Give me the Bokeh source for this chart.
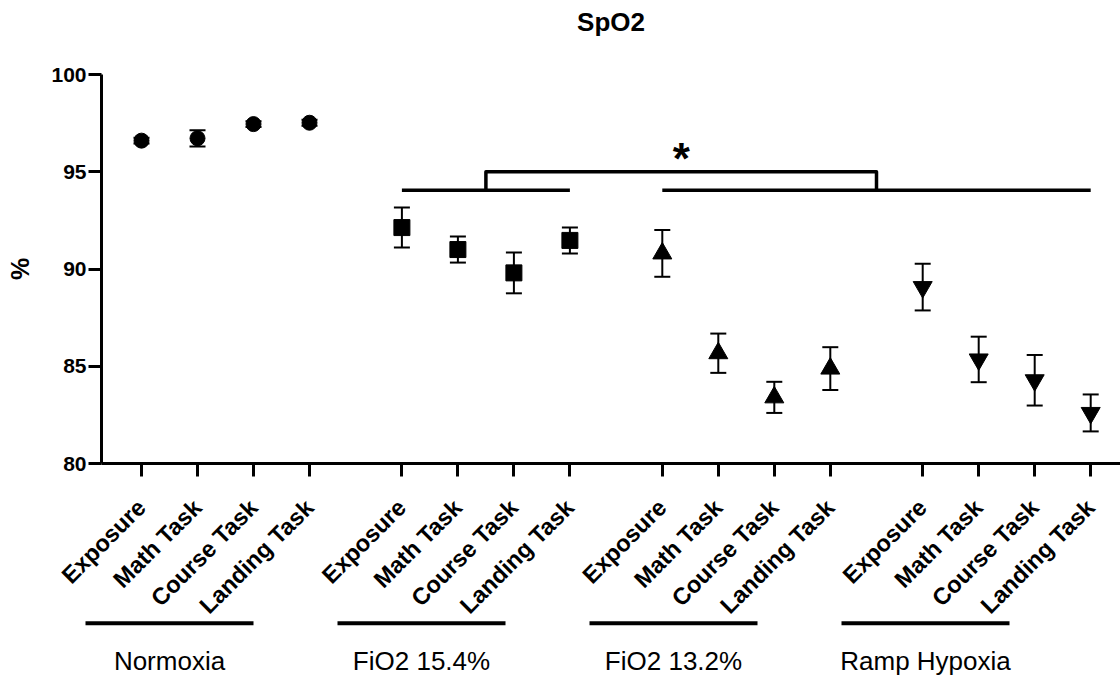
import math
from bokeh.plotting import figure
from bokeh.models import FixedTicker, ColumnDataSource, Range1d
from bokeh.core.properties import value
from bokeh.embed import file_html
from bokeh.resources import INLINE

# --- data -----------------------------------------------------------------
tasks = ["Exposure", "Math Task", "Course Task", "Landing Task"]
conditions = ["Normoxia", "FiO2 15.4%", "FiO2 13.2%", "Ramp Hypoxia"]

normoxia_mean = [96.60, 96.72, 97.45, 97.52]
normoxia_sem = [0.15, 0.42, 0.15, 0.15]
fio2_154_mean = [92.13, 91.00, 89.80, 91.47]
fio2_154_sem = [1.03, 0.67, 1.05, 0.67]
fio2_132_mean = [90.80, 85.67, 83.40, 84.88]
fio2_132_sem = [1.20, 1.01, 0.80, 1.10]
ramp_mean = [89.07, 85.35, 84.28, 82.60]
ramp_sem = [1.20, 1.17, 1.30, 0.95]

y_ticks = [80, 85, 90, 95, 100]
title_text = "SpO2"
sig_text = "*"
sig_bar_y = 94.05      # level of the two comparison bars
sig_bracket_y = 95.0   # level of the connecting bracket
sig_star_y = 95.7

# --- layout ---------------------------------------------------------------
FONT = "Liberation Sans"
W, H = 1120, 677
group_offset = [0, 93, 186, 279]   # x position of the first task in each condition
task_step = 20
group_label_x = [10, 100, 190, 280]
group_label_half = 30

means = [normoxia_mean, fio2_154_mean, fio2_132_mean, ramp_mean]
sems = [normoxia_sem, fio2_154_sem, fio2_132_sem, ramp_sem]
markers = ["circle", "square", "triangle", "inverted_triangle"]
marker_sizes = [15, 16, 19, 19]

# the frame covers the whole canvas; the axes are pinned inside it
PX_X = 2.8                  # pixels per x unit
PX_Y = 19.45                # pixels per percentage point
x_start = -141 / PX_X
x_end = x_start + W / PX_X
y_axis_at = x_start + 101 / PX_X
y_top = 100 + 74 / PX_Y
y_bottom = 80 - (H - 463) / PX_Y

title_y = 100 + (74 - 21.5) / PX_Y
group_line_y = 80 - (622.7 - 463) / PX_Y
group_text_y = 80 - (660.5 - 463) / PX_Y

tick_pos = []
tick_lab = {}
for g in range(4):
    for i, t in enumerate(tasks):
        xv = group_offset[g] + i * task_step
        tick_pos.append(xv)
        tick_lab[xv] = t

p = figure(
    frame_width=W, frame_height=H,
    min_border_left=0, min_border_right=0, min_border_top=0, min_border_bottom=0,
    x_range=Range1d(x_start, x_end), y_range=Range1d(y_bottom, y_top),
    toolbar_location=None, output_backend="svg",
)
p.outline_line_color = None
p.grid.visible = False
p.background_fill_color = "white"
p.border_fill_color = "white"

# y axis
ya = p.yaxis[0]
ya.fixed_location = y_axis_at
ya.ticker = FixedTicker(ticks=y_ticks)
ya.bounds = (80, 100)
ya.axis_line_width = 3
ya.major_tick_line_width = 3
ya.major_tick_out = 13
ya.major_tick_in = 0
ya.minor_tick_line_color = None
ya.major_label_text_font = FONT
ya.major_label_text_font_size = "21px"
ya.major_label_text_font_style = "bold"
ya.major_label_text_color = "black"
ya.major_label_standoff = 2
ya.axis_label = "%"
ya.axis_label_text_font = FONT
ya.axis_label_text_font_size = "25px"
ya.axis_label_text_font_style = "bold"
ya.axis_label_text_color = "black"
ya.axis_label_standoff = 14

# x axis with slanted task names
xa = p.xaxis[0]
xa.fixed_location = 80
xa.bounds = (y_axis_at, x_end)
xa.ticker = FixedTicker(ticks=tick_pos)
xa.major_label_overrides = tick_lab
xa.major_label_orientation = math.pi / 4
xa.axis_line_width = 3
xa.major_tick_line_width = 3
xa.major_tick_out = 13
xa.major_tick_in = 0
xa.minor_tick_line_color = None
xa.major_label_text_font = FONT
xa.major_label_text_font_size = "23.5px"
xa.major_label_text_font_style = "bold"
xa.major_label_text_color = "black"
xa.major_label_standoff = 27

# error bars and markers per condition
for g in range(4):
    xs = [group_offset[g] + i * task_step for i in range(4)]
    lo = [m - s for m, s in zip(means[g], sems[g])]
    hi = [m + s for m, s in zip(means[g], sems[g])]
    src = ColumnDataSource(dict(x=xs, y=means[g], lo=lo, hi=hi))
    p.segment(x0="x", y0="lo", x1="x", y1="hi", source=src,
              line_color="black", line_width=2)
    p.scatter(x="x", y="lo", marker="dash", size=16, source=src,
              line_color="black", line_width=2)
    p.scatter(x="x", y="hi", marker="dash", size=16, source=src,
              line_color="black", line_width=2)
    p.scatter(x="x", y="y", marker=markers[g], size=marker_sizes[g], source=src,
              fill_color="black", line_color="black")

# significance bars and bracket
left_a, left_b = group_offset[1], group_offset[1] + 3 * task_step
right_a, right_b = group_offset[2], group_offset[3] + 3 * task_step
p.segment(x0=[left_a, right_a], y0=[sig_bar_y, sig_bar_y],
          x1=[left_b, right_b], y1=[sig_bar_y, sig_bar_y],
          line_color="black", line_width=3.5)
lc = (left_a + left_b) / 2
rc = (right_a + right_b) / 2
p.line(x=[lc, lc, rc, rc], y=[sig_bar_y, sig_bracket_y, sig_bracket_y, sig_bar_y],
       line_color="black", line_width=3.5, line_join="round")
p.text(x=[(lc + rc) / 2], y=[sig_star_y], text=[sig_text],
       text_font=value(FONT), text_font_size="44px", text_font_style="bold",
       text_align="center", text_baseline="middle", text_color="black")

# title
p.text(x=[(y_axis_at + x_end) / 2], y=[title_y], text=[title_text],
       text_font=value(FONT), text_font_size="26px", text_font_style="bold",
       text_align="center", text_baseline="middle", text_color="black")

# condition labels with their underline bars
p.segment(x0=[c - group_label_half for c in group_label_x], y0=[group_line_y] * 4,
          x1=[c + group_label_half for c in group_label_x], y1=[group_line_y] * 4,
          line_color="black", line_width=4)
p.text(x=group_label_x, y=[group_text_y] * 4, text=conditions,
       text_font=value(FONT), text_font_size="26px",
       text_align="center", text_baseline="middle", text_color="black")

open("out.html", "w").write(file_html(p, INLINE))
